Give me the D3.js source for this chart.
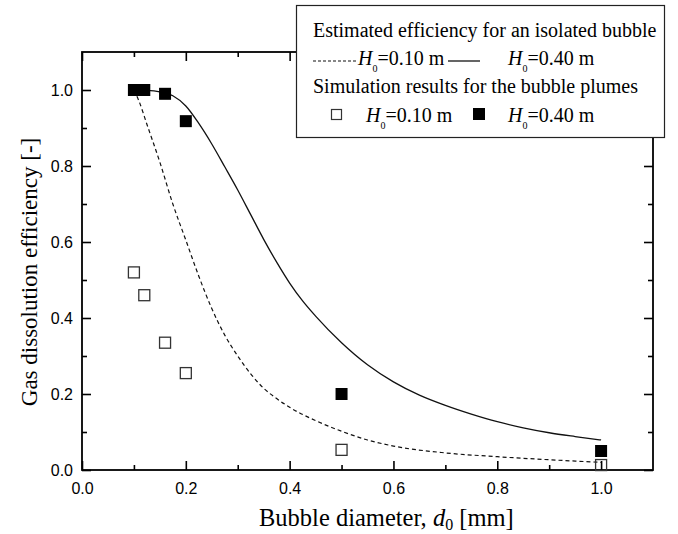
<!DOCTYPE html>
<html>
<head>
<meta charset="utf-8">
<script src="https://cdn.jsdelivr.net/npm/d3@7/dist/d3.min.js"></script>
<style>
  html, body { margin: 0; padding: 0; background: #fff; }
  svg { display: block; }
</style>
</head>
<body>
<svg id="chart" width="678" height="534"></svg>
<script>
// Estimated efficiency curves for an isolated bubble
const curveLowX  = [0.1, 0.11, 0.125, 0.15, 0.175, 0.2, 0.225, 0.25, 0.275, 0.3, 0.325, 0.35, 0.375, 0.4, 0.45, 0.5, 0.55, 0.6, 0.7, 0.8, 0.9, 1.0];
const curveLowY  = [1.0, 0.97, 0.91, 0.81, 0.70, 0.605, 0.51, 0.425, 0.355, 0.30, 0.253, 0.215, 0.188, 0.165, 0.130, 0.102, 0.079, 0.063, 0.045, 0.035, 0.027, 0.02];
const curveHighX = [0.1, 0.125, 0.15, 0.175, 0.2, 0.225, 0.25, 0.275, 0.3, 0.325, 0.35, 0.375, 0.4, 0.425, 0.45, 0.5, 0.55, 0.6, 0.65, 0.7, 0.75, 0.8, 0.85, 0.9, 0.95, 1.0];
const curveHighY = [1.0, 0.999, 0.995, 0.985, 0.958, 0.912, 0.858, 0.798, 0.737, 0.672, 0.607, 0.547, 0.492, 0.445, 0.405, 0.335, 0.277, 0.232, 0.197, 0.170, 0.147, 0.127, 0.111, 0.098, 0.088, 0.079];

// Simulation results for the bubble plumes
const simX     = [0.1, 0.12, 0.16, 0.2, 0.5, 1.0];
const simLowY  = [0.52, 0.46, 0.335, 0.255, 0.053, 0.013];
const simHighY = [1.0, 1.0, 0.99, 0.918, 0.2, 0.05];

// Axis ticks
const majorTicks = [0, 0.2, 0.4, 0.6, 0.8, 1.0];
const minorTicks = [0.1, 0.3, 0.5, 0.7, 0.9];

const svg = d3.select("#chart");
const L = 82, T = 52, R = 653, B = 470;

const x = d3.scaleLinear().domain([0, 1.1]).range([L, R]);
const y = d3.scaleLinear().domain([0, 1.1]).range([B, T]);

const sans = "Liberation Sans";
const serif = "Liberation Serif";

// curves
const line = d3.line().x(d => x(d[0])).y(d => y(d[1])).curve(d3.curveMonotoneX);
svg.append("path")
  .attr("d", line(d3.zip(curveLowX, curveLowY)))
  .attr("fill", "none").attr("stroke", "#111").attr("stroke-width", 1.2)
  .attr("stroke-dasharray", "4,3");
svg.append("path")
  .attr("d", line(d3.zip(curveHighX, curveHighY)))
  .attr("fill", "none").attr("stroke", "#111").attr("stroke-width", 1.3);

// axes: ticks point inward on all four sides
function drawAxis(axisFn, sc, transform, labels) {
  const gMinor = svg.append("g").attr("transform", transform)
    .call(axisFn(sc).tickValues(minorTicks).tickSize(-5).tickFormat(""));
  gMinor.select(".domain").remove();
  const gMajor = svg.append("g").attr("transform", transform)
    .call(axisFn(sc).tickValues(majorTicks).tickSize(-9).tickPadding(labels ? 16 : 0)
      .tickFormat(labels ? d3.format(".1f") : ""));
  gMajor.select(".domain").remove();
  [gMinor, gMajor].forEach(g => g.selectAll("line").attr("stroke", "#000").attr("stroke-width", 1.6));
  gMajor.selectAll("text").attr("font-family", sans).attr("font-size", 16).attr("fill", "#000");
  return gMajor;
}
const gx = drawAxis(d3.axisBottom, x, `translate(0,${B})`, true);
gx.selectAll("text").attr("dy", null).attr("y", 24);
drawAxis(d3.axisTop, x, `translate(0,${T})`, false);
const gy = drawAxis(d3.axisLeft, y, `translate(${L},0)`, true);
gy.selectAll("text").attr("x", -9);
drawAxis(d3.axisRight, y, `translate(${R},0)`, false);

// frame
svg.append("rect").attr("x", L).attr("y", T).attr("width", R - L).attr("height", B - T)
  .attr("fill", "none").attr("stroke", "#000").attr("stroke-width", 1.8);

// simulation markers
const s = 12;
svg.append("g").selectAll("rect").data(d3.zip(simX, simLowY)).join("rect")
  .attr("x", d => x(d[0]) - s / 2 + 0.5).attr("y", d => y(d[1]) - s / 2 + 0.5)
  .attr("width", s - 1).attr("height", s - 1)
  .attr("fill", "none").attr("stroke", "#333").attr("stroke-width", 1.3);
svg.append("g").selectAll("rect").data(d3.zip(simX, simHighY)).join("rect")
  .attr("x", d => x(d[0]) - s / 2).attr("y", d => y(d[1]) - s / 2)
  .attr("width", s).attr("height", s).attr("fill", "#000");

// axis titles
const xt = svg.append("text").attr("x", 259).attr("y", 526)
  .attr("font-family", serif).attr("font-size", 24.5);
xt.append("tspan").text("Bubble diameter, ");
xt.append("tspan").attr("font-style", "italic").text("d");
xt.append("tspan").attr("font-size", 16).attr("dy", 4).text("0");
xt.append("tspan").attr("dy", -4).text(" [mm]");

svg.append("text").attr("transform", "translate(37,272) rotate(-90)")
  .attr("text-anchor", "middle").attr("font-family", serif).attr("font-size", 23)
  .text("Gas dissolution efficiency [-]");

// legend
const lg = svg.append("g");
lg.append("rect").attr("x", 296.5).attr("y", 5.5).attr("width", 368).attr("height", 132)
  .attr("fill", "#fff").attr("stroke", "#222").attr("stroke-width", 1.2);
const lt = (tx, ty, str) => lg.append("text").attr("x", tx).attr("y", ty)
  .attr("font-family", serif).attr("font-size", 20).text(str);
lt(313, 37, "Estimated efficiency for an isolated bubble");
lt(313, 93, "Simulation results for the bubble plumes");
function hLabel(tx, ty, val) {
  const t = lg.append("text").attr("x", tx).attr("y", ty).attr("font-family", serif).attr("font-size", 20);
  t.append("tspan").attr("font-style", "italic").text("H");
  t.append("tspan").attr("font-size", 10).attr("dy", 7).text("0");
  t.append("tspan").attr("dy", -7).text("=" + val + " m");
  return t;
}
lg.append("line").attr("x1", 313).attr("x2", 356).attr("y1", 61).attr("y2", 61)
  .attr("stroke", "#111").attr("stroke-width", 1.2).attr("stroke-dasharray", "3,2");
hLabel(358, 65, "0.10");
lg.append("line").attr("x1", 448).attr("x2", 480).attr("y1", 61).attr("y2", 61)
  .attr("stroke", "#111").attr("stroke-width", 1.3);
hLabel(508, 65, "0.40");
lg.append("rect").attr("x", 331.5).attr("y", 109.5).attr("width", 10).attr("height", 10)
  .attr("fill", "#fff").attr("stroke", "#333").attr("stroke-width", 1.2);
hLabel(366, 122, "0.10");
lg.append("rect").attr("x", 473).attr("y", 108).attr("width", 12).attr("height", 12).attr("fill", "#000");
hLabel(508, 122, "0.40");
</script>
</body>
</html>
